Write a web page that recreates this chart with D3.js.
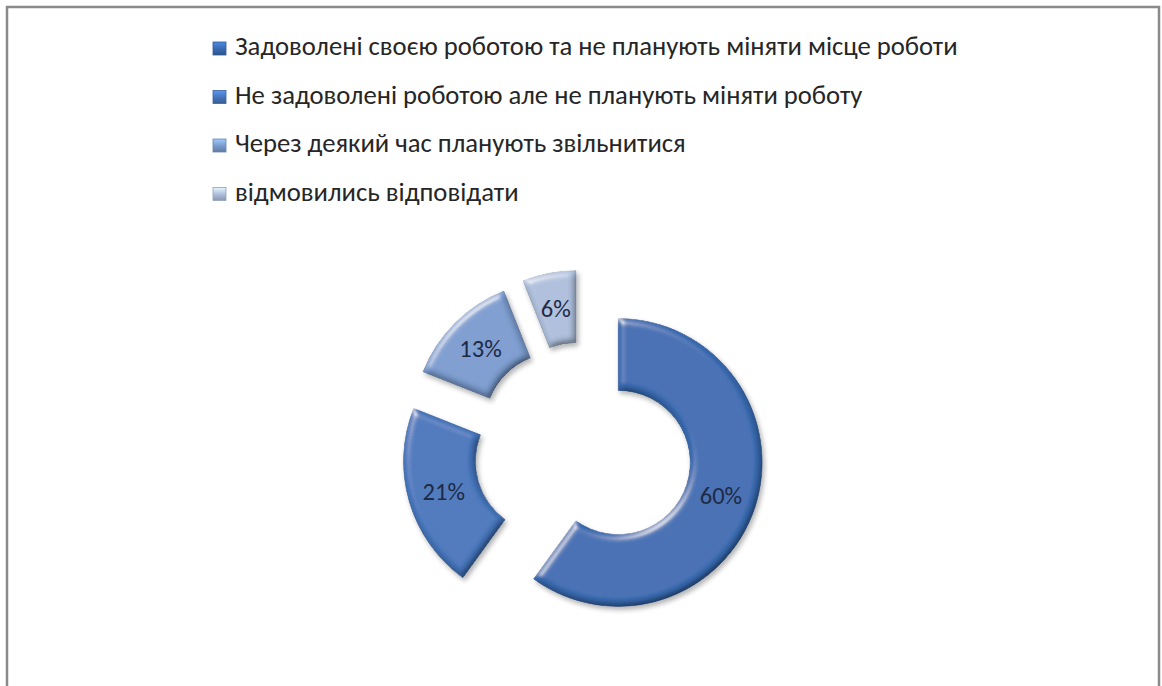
<!doctype html>
<html lang="uk">
<head>
<meta charset="utf-8">
<script src="https://cdnjs.cloudflare.com/ajax/libs/d3/7.8.5/d3.min.js"></script>
<style>
    html, body { margin: 0; padding: 0; background: #fff; }
    svg { display: block; }
</style>
</head>
<body>
<svg id="svg" width="1162" height="686"></svg>
<script>
    var categories = [
        "Задоволені своєю роботою та не планують міняти місце роботи",
        "Не задоволені роботою але не планують міняти роботу",
        "Через деякий час планують звільнитися",
        "відмовились відповідати"
    ];
    var values = [60, 21, 13, 6];
    var colors = ["#3a6cb3", "#4676bd", "#7c9dd0", "#b0c1de"];

    var svg = d3.select("#svg");

    // frame
    svg.append("rect")
        .attr("x", 7).attr("y", 7)
        .attr("width", 1152).attr("height", 700)
        .attr("fill", "#fff")
        .attr("stroke", "#8a8a8a")
        .attr("stroke-width", 2.5);

    var defs = svg.append("defs");

    // soft bevel, roughly like the office "shape effects"
    var bevel = defs.append("filter").attr("id", "bevel")
        .attr("x", "-10%").attr("y", "-10%").attr("width", "130%").attr("height", "130%");
    bevel.append("feGaussianBlur").attr("in", "SourceAlpha").attr("stdDeviation", 3.5).attr("result", "blur");
    bevel.append("feDiffuseLighting")
        .attr("in", "blur").attr("surfaceScale", 4).attr("diffuseConstant", 1.15)
        .attr("lighting-color", "#ffffff").attr("result", "diff")
        .append("feDistantLight").attr("azimuth", 235).attr("elevation", 58);
    bevel.append("feComposite").attr("in", "SourceGraphic").attr("in2", "diff")
        .attr("operator", "arithmetic").attr("k1", 1).attr("k2", 0).attr("k3", 0).attr("k4", 0)
        .attr("result", "lit");
    bevel.append("feSpecularLighting")
        .attr("in", "blur").attr("surfaceScale", 4).attr("specularConstant", 0.6)
        .attr("specularExponent", 25).attr("lighting-color", "#ffffff").attr("result", "spec")
        .append("feDistantLight").attr("azimuth", 235).attr("elevation", 35);
    bevel.append("feComposite").attr("in", "spec").attr("in2", "SourceAlpha")
        .attr("operator", "in").attr("result", "specIn");
    bevel.append("feComposite").attr("in", "lit").attr("in2", "SourceAlpha")
        .attr("operator", "in").attr("result", "litIn");
    bevel.append("feGaussianBlur").attr("in", "SourceAlpha").attr("stdDeviation", 2.5).attr("result", "sblur");
    bevel.append("feOffset").attr("in", "sblur").attr("dx", 2).attr("dy", 3).attr("result", "shadow0");
    bevel.append("feComponentTransfer").attr("in", "shadow0").attr("result", "shadow")
        .append("feFuncA").attr("type", "linear").attr("slope", 0.3);
    var merge = bevel.append("feMerge");
    merge.append("feMergeNode").attr("in", "shadow");
    merge.append("feMergeNode").attr("in", "litIn");
    merge.append("feMergeNode").attr("in", "specIn");

    // legend markers gradient
    colors.forEach(function (c, i) {
        var g = defs.append("linearGradient").attr("id", "lg" + i)
            .attr("x1", 0).attr("y1", 0).attr("x2", 0).attr("y2", 1);
        g.append("stop").attr("offset", "0%").attr("stop-color", d3.color(c).brighter(0.7));
        g.append("stop").attr("offset", "50%").attr("stop-color", c);
        g.append("stop").attr("offset", "100%").attr("stop-color", d3.color(c).darker(0.7));
    });

    // ---- legend
    var fontStack = "Carlito, 'Liberation Sans Narrow', 'Liberation Sans', Arial, sans-serif";
    var legendX = 213, legendY = 55, legendStep = 48.5;

    var legend = svg.append("g");
    var rows = legend.selectAll("g.row")
        .data(categories)
        .enter().append("g")
        .attr("class", "row")
        .attr("transform", function (d, i) { return "translate(" + legendX + "," + (legendY + i * legendStep) + ")"; });

    rows.append("rect")
        .attr("x", 0).attr("y", -13)
        .attr("width", 13).attr("height", 13)
        .attr("fill", function (d, i) { return "url(#lg" + i + ")"; })
        .attr("stroke", function (d, i) { return d3.color(colors[i]).darker(0.5); })
        .attr("stroke-width", 0.8);

    var texts = rows.append("text")
        .attr("x", 22).attr("y", 0)
        .attr("font-family", fontStack)
        .attr("font-size", 24)
        .attr("fill", "#262626")
        .text(function (d) { return d; });

    // size the legend font so the longest line spans like the original
    var natural = texts.nodes()[0].getComputedTextLength();
    var fontSize = Math.min(28, 24 * 723 / natural);
    texts.attr("font-size", fontSize);
    var fitted = texts.nodes()[0].getComputedTextLength();
    var squeeze = Math.min(1, 723 / fitted);
    texts.attr("transform", "translate(22,0) scale(" + squeeze + ",1) translate(-22,0)");

    // ---- exploded doughnut
    var cx = 583, cy = 451;
    var outerR = 144, innerR = 72, explode = 37;

    var pie = d3.pie().sort(null).value(function (d) { return d; });
    var arc = d3.arc().innerRadius(innerR).outerRadius(outerR);
    var arcs = pie(values);

    var chart = svg.append("g").attr("transform", "translate(" + cx + "," + cy + ")");

    var slices = chart.selectAll("g.slice")
        .data(arcs)
        .enter().append("g")
        .attr("class", "slice")
        .attr("transform", function (d) {
            var mid = (d.startAngle + d.endAngle) / 2;
            return "translate(" + (explode * Math.sin(mid)) + "," + (-explode * Math.cos(mid)) + ")";
        });

    slices.append("path")
        .attr("d", arc)
        .attr("fill", function (d, i) { return colors[i]; })
        .attr("stroke", function (d, i) { return d3.color(colors[i]).darker(0.6); })
        .attr("stroke-width", 0.8)
        .attr("filter", "url(#bevel)");

    slices.append("text")
        .attr("transform", function (d) {
            var p = arc.centroid(d);
            return "translate(" + p[0] + "," + p[1] + ")";
        })
        .attr("text-anchor", "middle")
        .attr("dy", "0.35em")
        .attr("font-family", fontStack)
        .attr("font-size", fontSize * 0.92)
        .attr("fill", "#1c2a47")
        .text(function (d) { return d.data + "%"; });
</script>
</body>
</html>
